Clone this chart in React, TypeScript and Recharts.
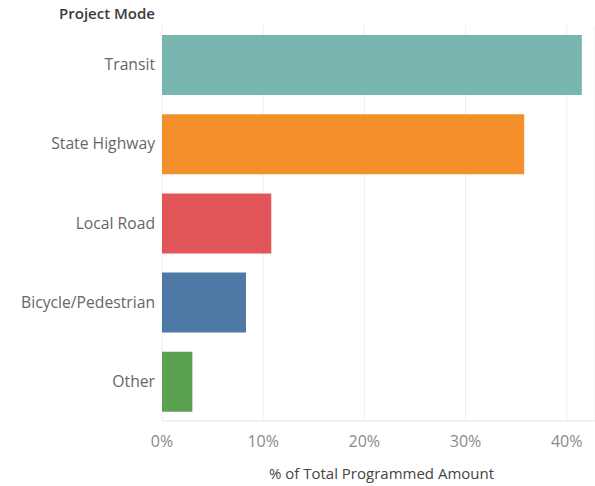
import React from "react";
import { BarChart, Bar, XAxis, YAxis, CartesianGrid, Cell } from "recharts";

const modes = ["Transit", "State Highway", "Local Road", "Bicycle/Pedestrian", "Other"];
const shares = [0.415, 0.358, 0.108, 0.083, 0.03];
const colors = ["#79b6af", "#f4902c", "#e25659", "#4e78a6", "#5aa24f"];
const xTicks = [0, 0.1, 0.2, 0.3, 0.4];

const data = modes.map((mode, i) => ({ mode, share: shares[i] }));

const FONT = "'Open Sans', sans-serif";

export default function App() {
  return (
    <div style={{ position: "absolute", left: 0, top: 0, width: 595, height: 486, fontFamily: FONT }}>
      <div
        style={{
          position: "absolute",
          left: 0,
          width: 155,
          top: 3,
          textAlign: "right",
          fontSize: 15,
          fontWeight: 600,
          color: "#3a3a3a",
        }}
      >
        Project Mode
      </div>
      <BarChart
        width={595}
        height={486}
        data={data}
        layout="vertical"
        margin={{ top: 25, right: 0, bottom: 0, left: 0 }}
        barSize={60}
      >
        <CartesianGrid horizontal={false} stroke="#efefef" />
        <XAxis
          type="number"
          domain={[0, 0.428]}
          ticks={xTicks}
          tickFormatter={(v) => `${Math.round(v * 100)}%`}
          axisLine={{ stroke: "#e6e6e6" }}
          tickLine={false}
          tickSize={0}
          tickMargin={15}
          height={65}
          tick={{ fill: "#8a8a8a", fontSize: 16, fontFamily: FONT }}
          label={{
            value: "% of Total Programmed Amount",
            position: "insideBottom",
            offset: 7,
            dx: 3,
            fill: "#444",
            fontSize: 15,
            fontFamily: FONT,
          }}
        />
        <YAxis
          type="category"
          dataKey="mode"
          width={162}
          axisLine={false}
          tickLine={false}
          tickSize={0}
          tickMargin={7}
          tick={{ fill: "#666", fontSize: 15.7, fontFamily: FONT }}
        />
        <Bar dataKey="share" isAnimationActive={false}>
          {data.map((d, i) => (
            <Cell key={`cell-${d.mode}`} fill={colors[i]} />
          ))}
        </Bar>
      </BarChart>
    </div>
  );
}
